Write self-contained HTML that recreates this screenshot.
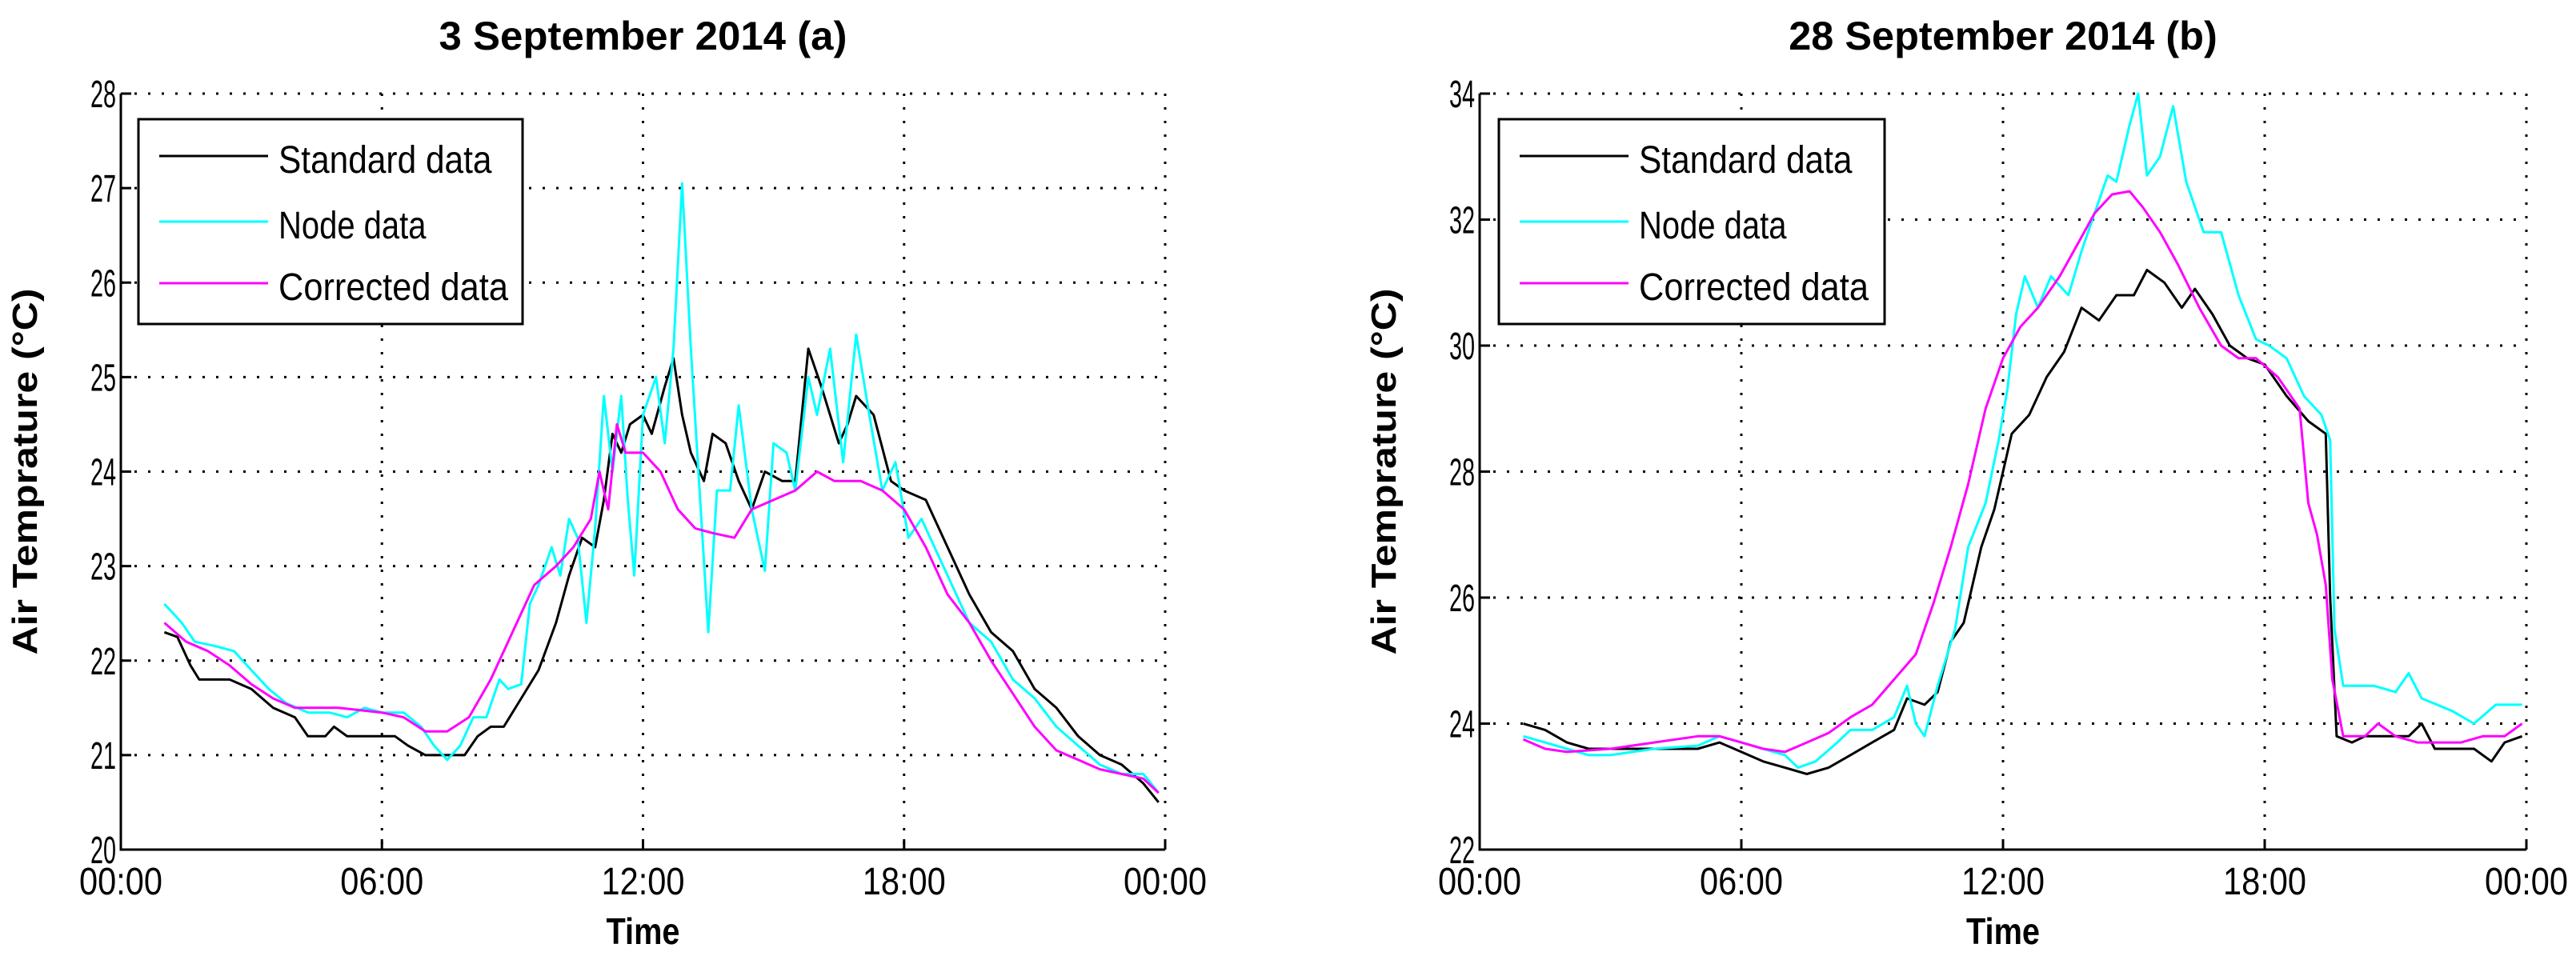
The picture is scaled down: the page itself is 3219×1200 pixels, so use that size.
<!DOCTYPE html>
<html><head><meta charset="utf-8"><style>
html,body{margin:0;padding:0;background:#fff}
svg{display:block}
text{font-family:"Liberation Sans",sans-serif}
</style></head><body>
<svg id="fig" width="3219" height="1200" viewBox="0 0 3219 1200" xmlns="http://www.w3.org/2000/svg">
<rect width="3219" height="1200" fill="#fff"/>
</svg>
<script>
// ---------- Chart A data (3 September 2014) ----------
const aStdHours = [1.0,1.3,1.6,1.8,2.5,3,3.5,4,4.3,4.7,4.9,5.2,6,6.3,6.6,7,7.5,7.9,8.2,8.5,8.8,9.2,9.6,10,10.3,10.6,10.9,11.1,11.3,11.5,11.7,12.0,12.2,12.5,12.7,12.9,13.1,13.4,13.6,13.9,14.2,14.5,14.8,15.2,15.5,15.8,16.1,16.5,16.7,16.9,17.3,17.7,18,18.5,19,19.5,20,20.5,21,21.5,22,22.5,23,23.5,23.85];
const aStdVals  = [22.3,22.25,21.95,21.8,21.8,21.7,21.5,21.4,21.2,21.2,21.3,21.2,21.2,21.2,21.1,21.0,21.0,21.0,21.2,21.3,21.3,21.6,21.9,22.4,22.9,23.3,23.2,23.7,24.4,24.2,24.5,24.6,24.4,24.9,25.2,24.6,24.2,23.9,24.4,24.3,23.9,23.6,24.0,23.9,23.9,25.3,24.9,24.3,24.5,24.8,24.6,23.9,23.8,23.7,23.2,22.7,22.3,22.1,21.7,21.5,21.2,21.0,20.9,20.7,20.5];
const aNodeHours = [1,1.4,1.7,2.2,2.6,3,3.4,3.8,4.3,4.8,5.2,5.6,6,6.5,6.9,7.2,7.5,7.8,8.1,8.4,8.7,8.9,9.2,9.4,9.6,9.9,10.1,10.3,10.5,10.7,10.9,11.1,11.3,11.5,11.65,11.8,12.0,12.3,12.5,12.7,12.9,13.1,13.3,13.5,13.7,14.0,14.2,14.5,14.8,15.0,15.3,15.5,15.8,16.0,16.3,16.6,16.9,17.2,17.5,17.8,18.1,18.4,19,19.5,20,20.5,21,21.5,22,22.5,23,23.5,23.85];
const aNodeVals  = [22.6,22.4,22.2,22.15,22.1,21.9,21.7,21.55,21.45,21.45,21.4,21.5,21.45,21.45,21.3,21.1,20.95,21.1,21.4,21.4,21.8,21.7,21.75,22.6,22.8,23.2,22.9,23.5,23.3,22.4,23.4,24.8,24.0,24.8,23.7,22.9,24.6,25.0,24.3,25.3,27.05,25.3,23.8,22.3,23.8,23.8,24.7,23.6,22.95,24.3,24.2,23.8,25.0,24.6,25.3,24.1,25.45,24.6,23.8,24.1,23.3,23.5,22.9,22.4,22.2,21.8,21.6,21.3,21.1,20.9,20.8,20.8,20.6];
const aCorHours = [1,1.5,2,2.5,3,3.5,4,5,6,6.5,7,7.5,8,8.5,9,9.5,10,10.4,10.8,11,11.2,11.4,11.6,12,12.4,12.8,13.2,13.6,14.1,14.5,15,15.5,16.0,16.4,17,17.5,18,18.5,19,19.5,20,20.5,21,21.5,22,22.5,23,23.5,23.85];
const aCorVals  = [22.4,22.2,22.1,21.95,21.75,21.6,21.5,21.5,21.45,21.4,21.25,21.25,21.4,21.8,22.3,22.8,23.0,23.2,23.5,24.0,23.6,24.5,24.2,24.2,24.0,23.6,23.4,23.35,23.3,23.6,23.7,23.8,24.0,23.9,23.9,23.8,23.6,23.2,22.7,22.4,22.0,21.65,21.3,21.05,20.95,20.85,20.8,20.75,20.6];
const aYTicks = [20,21,22,23,24,25,26,27,28];
// ---------- Chart B data (28 September 2014) ----------
const bStdHours = [1.0,1.5,2,2.5,3,4,5,5.5,6,6.5,7,7.5,8,8.5,9,9.5,9.8,10.2,10.5,10.8,11.1,11.5,11.8,12.0,12.2,12.6,13.0,13.4,13.8,14.2,14.6,15.0,15.3,15.7,16.1,16.4,16.8,17.2,17.6,18,18.5,19,19.4,19.5,19.65,20.0,20.3,20.7,21.3,21.6,21.9,22.3,22.8,23.2,23.5,23.9];
const bStdVals  = [24.0,23.9,23.7,23.6,23.6,23.6,23.6,23.7,23.55,23.4,23.3,23.2,23.3,23.5,23.7,23.9,24.4,24.3,24.5,25.3,25.6,26.8,27.4,28.0,28.6,28.9,29.5,29.9,30.6,30.4,30.8,30.8,31.2,31.0,30.6,30.9,30.5,30.0,29.8,29.7,29.2,28.8,28.6,26.0,23.8,23.7,23.8,23.8,23.8,24.0,23.6,23.6,23.6,23.4,23.7,23.8];
const bNodeHours = [1,1.5,2,2.5,3,4,5,5.5,6,6.5,7,7.3,7.7,8.2,8.5,9,9.5,9.8,10.0,10.2,10.5,10.9,11.2,11.6,11.9,12.1,12.3,12.5,12.8,13.1,13.5,13.8,14.1,14.4,14.6,14.9,15.1,15.3,15.6,15.9,16.2,16.6,17.0,17.4,17.8,18.1,18.5,18.9,19.3,19.5,19.6,19.8,20.5,21,21.3,21.6,22.3,22.8,23.3,23.9];
const bNodeVals  = [23.8,23.7,23.6,23.5,23.5,23.6,23.65,23.8,23.7,23.6,23.5,23.3,23.4,23.7,23.9,23.9,24.1,24.6,24.0,23.8,24.6,25.5,26.8,27.5,28.5,29.3,30.5,31.1,30.6,31.1,30.8,31.5,32.1,32.7,32.6,33.5,34.0,32.7,33.0,33.8,32.6,31.8,31.8,30.8,30.1,30.0,29.8,29.2,28.9,28.5,25.5,24.6,24.6,24.5,24.8,24.4,24.2,24.0,24.3,24.3];
const bCorHours = [1,1.5,2,3,4,5,5.5,6,6.5,7,7.5,8,8.5,9,9.5,10,10.4,10.8,11.2,11.6,12,12.4,12.8,13.3,13.7,14.1,14.5,14.9,15.2,15.6,16.0,16.5,17,17.4,17.8,18.3,18.8,19.0,19.2,19.4,19.55,19.8,20.3,20.6,21,21.5,22,22.5,23,23.5,23.9];
const bCorVals  = [23.75,23.6,23.55,23.6,23.7,23.8,23.8,23.7,23.6,23.55,23.7,23.85,24.1,24.3,24.7,25.1,25.9,26.8,27.8,29.0,29.8,30.3,30.6,31.1,31.6,32.1,32.4,32.45,32.2,31.8,31.3,30.6,30.0,29.8,29.8,29.5,29.0,27.5,27.0,26.2,24.7,23.8,23.8,24.0,23.8,23.7,23.7,23.7,23.8,23.8,24.0];
const bYTicks = [22,24,26,28,30,32,34];
const xTickHours = [0,6,12,18,24];
const xTickLabels = ["00:00","06:00","12:00","18:00","00:00"];

const NS = "http://www.w3.org/2000/svg";
const svg = document.getElementById("fig");
function mk(tag, attrs, parent){
  const e = document.createElementNS(NS, tag);
  for (const k in attrs) e.setAttribute(k, attrs[k]);
  (parent||svg).appendChild(e);
  return e;
}

function drawChart(prefix, L, R, T, B, ymin, ymax, yTicks, title, series, legendX, legendW){
  const g = mk("g", {});
  
  
  const xs = h => L + (h/24)*(R-L);
  const ys = v => B - (v-ymin)/(ymax-ymin)*(B-T);
  // grid
  xTickHours.forEach((h,i)=>{
    if (h===0) return;
    const gl = mk("line",{x1:xs(h),x2:xs(h),y1:T,y2:B,stroke:"#000","stroke-width":3,"stroke-dasharray":"3 14"},g);
    
    
  });
  yTicks.forEach(v=>{
    if (v===ymin) return;
    const gl = mk("line",{x1:L,x2:R,y1:ys(v),y2:ys(v),stroke:"#000","stroke-width":3,"stroke-dasharray":"3 14"},g);
    
    
  });
  // axes
  const ax = mk("path",{d:`M${L},${T} L${L},${B} L${R},${B}`,fill:"none",stroke:"#000","stroke-width":3},g);
  
  
  // ticks
  yTicks.forEach(v=>{
    mk("line",{x1:L,x2:L+13,y1:ys(v),y2:ys(v),stroke:"#000","stroke-width":3},g);
    const t = mk("text",{x:L-6,y:ys(v)+17,"text-anchor":"end","font-size":48,textLength:String(v).length*16,lengthAdjust:"spacingAndGlyphs"},g);
    t.textContent = v;
    
    
  });
  xTickHours.forEach((h,i)=>{
    mk("line",{x1:xs(h),x2:xs(h),y1:B,y2:B-13,stroke:"#000","stroke-width":3},g);
    const t = mk("text",{x:xs(h),y:B+56,"text-anchor":"middle","font-size":48,textLength:104,lengthAdjust:"spacingAndGlyphs"},g);
    t.textContent = xTickLabels[i];
    
    
  });
  // series
  series.forEach(s=>{
    const d = s.hours.map((h,i)=>(i?"L":"M")+xs(h).toFixed(1)+","+ys(s.vals[i]).toFixed(1)).join(" ");
    const p = mk("path",{d:d,fill:"none",stroke:s.color,"stroke-width":3,"stroke-linejoin":"round"},g);
    
    
  });
  // title
  const cx = (L+R)/2;
  const tt = mk("text",{x:cx,y:62,"text-anchor":"middle","font-size":50,"font-weight":"bold",textLength:title.length*25.5,lengthAdjust:"spacingAndGlyphs"},g);
  tt.textContent = title;
  
  
  const xl = mk("text",{x:cx,y:1180,"text-anchor":"middle","font-size":46,"font-weight":"bold",textLength:92,lengthAdjust:"spacingAndGlyphs"},g);
  xl.textContent = "Time";
  
  
  const ylx = L - 105;
  const yl = mk("text",{x:ylx,y:(T+B)/2,"text-anchor":"middle","font-size":44,"font-weight":"bold",transform:`rotate(-90 ${ylx} ${(T+B)/2})`,textLength:458,lengthAdjust:"spacingAndGlyphs"},g);
  yl.textContent = "Air Temprature (\u00B0C)";
  
  
  // legend
  const lg = mk("g",{},g);
  
  
  mk("rect",{x:legendX,y:149,width:legendW,height:256,fill:"#fff",stroke:"#000","stroke-width":3},lg);
  const ly = [195,277,354];
  series.forEach((s,i)=>{
    const e = mk("g",{},lg);
    
    
    mk("line",{x1:legendX+26,x2:legendX+162,y1:ly[i],y2:ly[i],stroke:s.color,"stroke-width":3},e);
    const t = mk("text",{x:legendX+175,y:ly[i]+21,"font-size":48,textLength:s.label.length*20.5,lengthAdjust:"spacingAndGlyphs"},e);
    t.textContent = s.label;
  });
}

drawChart("chart-a",151,1456,117,1062,20,28,aYTicks,"3 September 2014 (a)",[
  {name:"standard",label:"Standard data",color:"#000",hours:aStdHours,vals:aStdVals},
  {name:"node",label:"Node data",color:"#00ffff",hours:aNodeHours,vals:aNodeVals},
  {name:"corrected",label:"Corrected data",color:"#ff00ff",hours:aCorHours,vals:aCorVals}
],173,480);
drawChart("chart-b",1849,3157,117,1062,22,34,bYTicks,"28 September 2014 (b)",[
  {name:"standard",label:"Standard data",color:"#000",hours:bStdHours,vals:bStdVals},
  {name:"node",label:"Node data",color:"#00ffff",hours:bNodeHours,vals:bNodeVals},
  {name:"corrected",label:"Corrected data",color:"#ff00ff",hours:bCorHours,vals:bCorVals}
],1873,482);
</script>
</body></html>
